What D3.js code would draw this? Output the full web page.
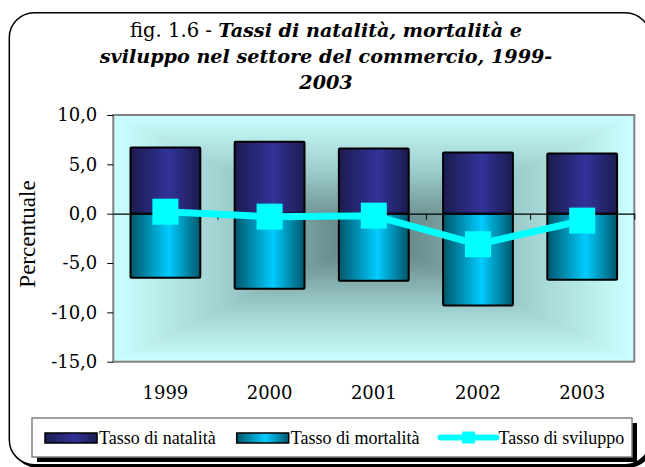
<!DOCTYPE html>
<html>
<head>
<meta charset="utf-8">
<script src="https://cdn.jsdelivr.net/npm/d3@7"></script>
<style>
  body { margin: 0; background: #fff; }
</style>
</head>
<body>
<svg id="chart" width="645" height="467"></svg>
<script>
const years = ['1999', '2000', '2001', '2002', '2003'];
const natalita = [6.7, 7.3, 6.6, 6.2, 6.1];
const mortalita = [-6.5, -7.6, -6.8, -9.3, -6.7];
const sviluppo = [0.2, -0.3, -0.2, -3.1, -0.7];
const yTicks = [-15, -10, -5, 0, 5, 10];
const seriesNames = ['Tasso di natalità', 'Tasso di mortalità', 'Tasso di sviluppo'];
const titlePrefix = 'fig. 1.6 - ';
const titleLines = ['Tassi di natalità, mortalità e', 'sviluppo nel settore del commercio, 1999-', '2003'];

const PLOT = { left: 113.3, right: 634.3, top: 115, bottom: 361.7 };
const SERIF = '"DejaVu Serif", serif';
const TIMES = '"Liberation Serif", "Times New Roman", serif';

const svg = d3.select('#chart');
const defs = svg.append('defs');

function barGradient(id, edge, mid) {
  const g = defs.append('linearGradient').attr('id', id)
    .attr('x1', '0%').attr('x2', '100%').attr('y1', '0%').attr('y2', '0%');
  g.append('stop').attr('offset', '0%').attr('stop-color', edge);
  g.append('stop').attr('offset', '55%').attr('stop-color', mid);
  g.append('stop').attr('offset', '100%').attr('stop-color', edge);
}
barGradient('gNat', '#1b1b50', '#333399');
barGradient('gMort', '#00566b', '#00ccff');

// outer frame + shadow
svg.append('rect').attr('x', 12.3).attr('y', 15.7).attr('width', 641).attr('height', 452)
  .attr('rx', 25).attr('fill', '#000');
svg.append('rect').attr('x', 9.3).attr('y', 12.7).attr('width', 641).attr('height', 452)
  .attr('rx', 25).attr('fill', '#fff').attr('stroke', '#000').attr('stroke-width', 1.5);

// title
const baselines = [36.7, 63, 89];
const titleX = 326;
const tEls = titleLines.map((line, i) => {
  const t = svg.append('text').attr('x', titleX).attr('y', baselines[i])
    .attr('text-anchor', 'middle').attr('fill', '#000');
  if (i === 0) {
    t.append('tspan').attr('class', 'reg').style('font-family', SERIF).text(titlePrefix);
  }
  t.append('tspan').attr('class', 'bi').style('font-family', SERIF)
    .style('font-weight', 'bold').style('font-style', 'italic').text(line);
  return t;
});
tEls.forEach(t => t.selectAll('tspan').style('font-size', '20px'));
const len2 = tEls[1].node().getComputedTextLength();
const titleSize = 20 * 453 / len2;
tEls.forEach(t => {
  t.selectAll('tspan.bi').style('font-size', titleSize + 'px');
  t.selectAll('tspan.reg').style('font-size', (titleSize * 1.02) + 'px');
});

// scales
const x = d3.scaleBand().domain(years).range([PLOT.left, PLOT.right])
  .paddingInner(0.33).paddingOuter(0.165);
const y = d3.scaleLinear().domain([-15, 10]).range([PLOT.bottom, PLOT.top]);

// plot background: rectangular "from center" gradient
const cx = (PLOT.left + PLOT.right) / 2;
const cy = (PLOT.top + PLOT.bottom) / 2;
const { left: l, right: r, top: t, bottom: b } = PLOT;
const tris = [
  { pts: [[l, t], [r, t], [cx, cy]], from: [cx, t] },
  { pts: [[l, b], [r, b], [cx, cy]], from: [cx, b] },
  { pts: [[l, t], [l, b], [cx, cy]], from: [l, cy] },
  { pts: [[r, t], [r, b], [cx, cy]], from: [r, cy] },
];
tris.forEach((tr, i) => {
  const g = defs.append('linearGradient').attr('id', 'bg' + i)
    .attr('gradientUnits', 'userSpaceOnUse')
    .attr('x1', tr.from[0]).attr('y1', tr.from[1]).attr('x2', cx).attr('y2', cy);
  g.append('stop').attr('offset', '0%').attr('stop-color', '#ccffff');
  g.append('stop').attr('offset', '45%').attr('stop-color', '#9dcccc');
  g.append('stop').attr('offset', '100%').attr('stop-color', '#577575');
  svg.append('path').attr('d', 'M' + tr.pts.join('L') + 'Z')
    .attr('fill', `url(#bg${i})`).attr('stroke', `url(#bg${i})`).attr('stroke-width', 0.6);
});
svg.append('rect').attr('x', l).attr('y', t).attr('width', r - l).attr('height', b - t)
  .attr('fill', 'none').attr('stroke', '#808080').attr('stroke-width', 2);

// y axis
const yAxis = svg.append('g').attr('transform', `translate(${PLOT.left},0)`)
  .call(d3.axisLeft(y).tickValues(yTicks).tickSize(6).tickPadding(10)
    .tickFormat(d => d.toFixed(1).replace('.', ',')));
yAxis.select('.domain').remove();
yAxis.selectAll('text').style('font-family', SERIF).style('font-size', '18px').attr('fill', '#000');

svg.append('text')
  .attr('transform', `translate(35,234) rotate(-90)`)
  .attr('text-anchor', 'middle')
  .style('font-family', TIMES).style('font-size', '23px')
  .text('Percentuale');

// year labels
const xAxis = svg.append('g').attr('transform', `translate(0,${PLOT.bottom})`)
  .call(d3.axisBottom(x).tickSize(0).tickPadding(25));
xAxis.select('.domain').remove();
xAxis.selectAll('text').style('font-family', SERIF).style('font-size', '18px').attr('fill', '#000');

// bars
svg.append('g').selectAll('rect').data(years).enter().append('rect')
  .attr('x', d => x(d)).attr('width', x.bandwidth())
  .attr('y', (d, i) => y(natalita[i])).attr('height', (d, i) => y(0) - y(natalita[i]))
  .attr('fill', 'url(#gNat)').attr('stroke', '#000').attr('stroke-width', 2).attr('rx', 1);
svg.append('g').selectAll('rect').data(years).enter().append('rect')
  .attr('x', d => x(d)).attr('width', x.bandwidth())
  .attr('y', y(0)).attr('height', (d, i) => y(mortalita[i]) - y(0))
  .attr('fill', 'url(#gMort)').attr('stroke', '#000').attr('stroke-width', 2).attr('rx', 1);

// zero axis with category ticks
const xEdge = d3.scaleLinear().domain([0, years.length]).range([PLOT.left, PLOT.right]);
const zeroAxis = svg.append('g').attr('transform', `translate(0,${y(0)})`)
  .call(d3.axisBottom(xEdge).tickValues(d3.range(1, years.length + 1)).tickSize(6)
    .tickSizeOuter(0).tickFormat(''));
zeroAxis.select('.domain').attr('stroke-width', 1.2);

// line + markers
const cxOf = d => x(d) + x.bandwidth() / 2;
svg.append('path').datum(years)
  .attr('d', d3.line().x(cxOf).y((d, i) => y(sviluppo[i])))
  .attr('fill', 'none').attr('stroke', '#00ffff').attr('stroke-width', 7);
svg.append('g').selectAll('rect').data(years).enter().append('rect')
  .attr('x', d => cxOf(d) - 13).attr('y', (d, i) => y(sviluppo[i]) - 13)
  .attr('width', 26).attr('height', 26).attr('fill', '#00ffff');

// legend
svg.append('rect').attr('x', 37).attr('y', 423).attr('width', 600).attr('height', 39).attr('fill', '#000');
svg.append('rect').attr('x', 32).attr('y', 418).attr('width', 600).attr('height', 39)
  .attr('fill', '#fff').attr('stroke', '#808080').attr('stroke-width', 1.5);

let cursor = 45;
seriesNames.forEach((name, i) => {
  const sw = 52;
  if (i < 2) {
    svg.append('rect').attr('x', cursor).attr('y', 433).attr('width', sw).attr('height', 10)
      .attr('fill', i === 0 ? 'url(#gNat)' : 'url(#gMort)').attr('stroke', '#000').attr('stroke-width', 1.5);
  } else {
    svg.append('line').attr('x1', cursor).attr('x2', cursor + sw + 4).attr('y1', 437.5).attr('y2', 437.5)
      .attr('stroke', '#00ffff').attr('stroke-width', 6).attr('stroke-linecap', 'round');
    svg.append('rect').attr('x', cursor + (sw + 4) / 2 - 6.5).attr('y', 431.5).attr('width', 13).attr('height', 12)
      .attr('fill', '#00ffff');
  }
  const tx = cursor + sw + (i < 2 ? 2 : 6);
  const txt = svg.append('text').attr('x', tx).attr('y', 444)
    .style('font-family', TIMES).style('font-size', '18px').text(name);
  cursor = tx + txt.node().getComputedTextLength() + 21;
});
</script>
</body>
</html>
